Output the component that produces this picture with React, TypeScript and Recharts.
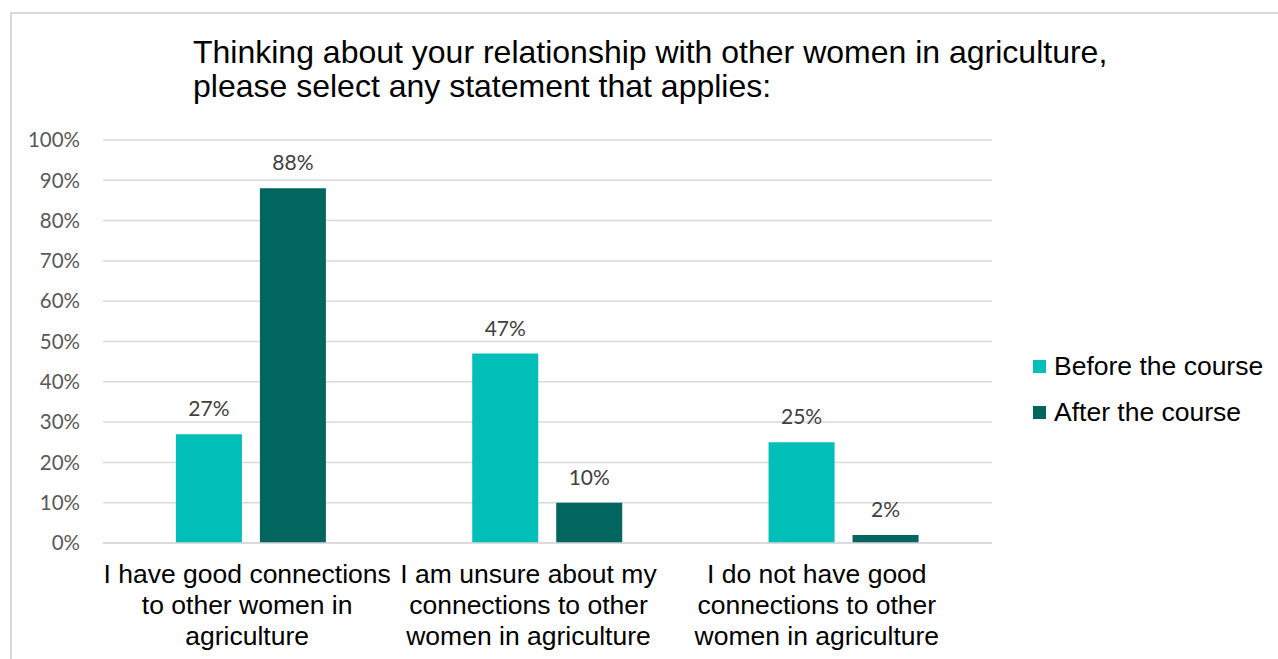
import React from "react";
import { BarChart, Bar, XAxis, YAxis, CartesianGrid, LabelList } from "recharts";

const categories: string[][] = [
  ["I have good connections", "to other women in", "agriculture"],
  ["I am unsure about my", "connections to other", "women in agriculture"],
  ["I do not have good", "connections to other", "women in agriculture"],
];
const beforeValues = [27, 47, 25];
const afterValues = [88, 10, 2];
const yTicks = [0, 10, 20, 30, 40, 50, 60, 70, 80, 90, 100];
const seriesNames = ["Before the course", "After the course"];

// the original labels sit a little left of their category centre
const labelNudge = [-4, -19, -27];

const BEFORE_COLOR = "#00BFB8";
const AFTER_COLOR = "#00665F";
const ARIAL = "'Liberation Sans', Arial, sans-serif";
const CALIBRI_LIKE = "Lato, 'Open Sans', sans-serif";

const data = categories.map((lines, i) => ({
  name: lines.join(" "),
  before: beforeValues[i],
  after: afterValues[i],
}));

const CategoryTick = (props: any) => {
  const { x, y, payload } = props;
  const lines: string[] = categories[payload.index] ?? [payload.value];
  const dx = labelNudge[payload.index] ?? 0;
  return (
    <g>
      {lines.map((line, i) => (
        <text
          key={i}
          x={x + dx}
          y={y + 32 + i * 31}
          textAnchor="middle"
          fontFamily={ARIAL}
          fontSize={26.5}
          fill="#000"
        >
          {line}
        </text>
      ))}
    </g>
  );
};

const LegendBox = () => {
  const colors = [BEFORE_COLOR, AFTER_COLOR];
  return (
    <div style={{ position: "absolute", left: 1033, top: 343, fontFamily: ARIAL }}>
      {seriesNames.map((label, i) => (
        <div
          key={label}
          style={{ display: "flex", alignItems: "center", height: 46, fontSize: 26.5, color: "#000", whiteSpace: "nowrap" }}
        >
          <span style={{ width: 13, height: 13, background: colors[i], marginRight: 8, display: "inline-block" }} />
          {label}
        </div>
      ))}
    </div>
  );
};

export default function App() {
  return (
    <div style={{ position: "absolute", left: 0, top: 0, width: 1278, height: 659, background: "#fff", overflow: "hidden" }}>
      <div
        style={{
          position: "absolute",
          left: 10,
          top: 12,
          width: 1300,
          height: 700,
          border: "2px solid #d9d9d9",
        }}
      />
      <div
        style={{
          position: "absolute",
          left: 193,
          top: 35,
          fontFamily: ARIAL,
          fontSize: 32,
          lineHeight: "34px",
          color: "#000",
          whiteSpace: "nowrap",
        }}
      >
        Thinking about your relationship with other women in agriculture,
        <br />
        please select any statement that applies:
      </div>
      <div style={{ position: "absolute", left: 0, top: 0 }}>
        <BarChart
          width={1278}
          height={659}
          data={data}
          margin={{ top: 140, right: 286, bottom: 0, left: 43 }}
          barCategoryGap="24.6%"
          barGap={18}
        >
          <CartesianGrid vertical={false} stroke="#d9d9d9" strokeWidth={1.5} />
          <XAxis
            dataKey="name"
            tick={<CategoryTick />}
            tickLine={false}
            axisLine={{ stroke: "#d9d9d9", strokeWidth: 1.5 }}
            interval={0}
            height={116}
          />
          <YAxis
            width={60}
            domain={[0, 100]}
            ticks={yTicks}
            interval={0}
            tickFormatter={(v: number) => `${v}%`}
            axisLine={false}
            tickLine={false}
            tickSize={0}
            tickMargin={23}
            tick={{ fill: "#595959", fontSize: 20.5, fontFamily: CALIBRI_LIKE }}
          />
          <Bar dataKey="before" name={seriesNames[0]} fill={BEFORE_COLOR} isAnimationActive={false}>
            <LabelList
              dataKey="before"
              position="top"
              offset={18}
              formatter={(v: any) => `${v}%`}
              style={{ fill: "#404040", fontSize: 21, fontFamily: CALIBRI_LIKE }}
            />
          </Bar>
          <Bar dataKey="after" name={seriesNames[1]} fill={AFTER_COLOR} isAnimationActive={false}>
            <LabelList
              dataKey="after"
              position="top"
              offset={18}
              formatter={(v: any) => `${v}%`}
              style={{ fill: "#404040", fontSize: 21, fontFamily: CALIBRI_LIKE }}
            />
          </Bar>
        </BarChart>
      </div>
      <LegendBox />
    </div>
  );
}
